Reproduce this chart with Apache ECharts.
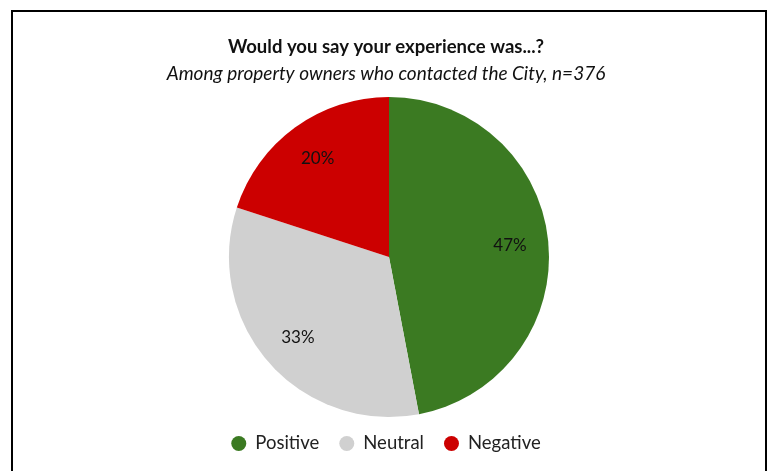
<!DOCTYPE html>
<html>
<head>
<meta charset="utf-8">
<script src="https://cdn.jsdelivr.net/npm/echarts@6/dist/echarts.min.js"></script>
<style>
html,body{margin:0;padding:0;background:#fff;}
#chart{width:772px;height:471px;}
</style>
</head>
<body>
<div id="chart"></div>
<script>
const categories = ['Positive', 'Neutral', 'Negative'];
const values = [47, 33, 20];
const colors = ['#3b7a22', '#d0d0d0', '#cc0000'];
const titleText = 'Would you say your experience was...?';
const subtitleText = 'Among property owners who contacted the City, n=376';

const chart = echarts.init(document.getElementById('chart'));
const data = categories.map((c, i) => ({ name: c, value: values[i], itemStyle: { color: colors[i] } }));
const labelData = categories.map((c, i) => ({ name: c, value: values[i], itemStyle: { color: 'rgba(0,0,0,0)' } }));

chart.setOption({
  animation: false,
  title: {
    text: titleText,
    subtext: subtitleText,
    left: 'center',
    top: 33,
    itemGap: 7,
    textStyle: { fontFamily: 'Lato', fontWeight: 'bold', fontSize: 18.5, color: '#111' },
    subtextStyle: { fontFamily: 'Lato', fontStyle: 'italic', fontSize: 19, color: '#111' }
  },
  legend: {
    data: categories,
    bottom: 13,
    left: 'center',
    icon: 'circle',
    itemWidth: 15,
    itemHeight: 15,
    itemGap: 20,
    textStyle: { fontFamily: 'Lato', fontSize: 18.5, color: '#222', padding: [0, 0, 0, 4] }
  },
  graphic: [{
    type: 'polyline',
    shape: { points: [[12, 480], [12, 11], [766, 11], [766, 480]] },
    style: { stroke: '#000', lineWidth: 2, fill: null },
    silent: true
  }],
  series: [{
    type: 'pie',
    center: [389, 257],
    radius: [0, 160],
    startAngle: 90,
    clockwise: true,
    label: { show: false },
    labelLine: { show: false },
    emphasis: { disabled: true },
    data: data
  }, {
    type: 'pie',
    center: [389, 257],
    radius: [77, 160],
    startAngle: 90,
    clockwise: true,
    silent: true,
    label: {
      show: true,
      position: 'inside',
      formatter: p => p.value + '%',
      fontFamily: 'Lato',
      fontSize: 17,
      color: '#111'
    },
    labelLine: { show: false },
    emphasis: { disabled: true },
    data: labelData
  }]
});
</script>
</body>
</html>
